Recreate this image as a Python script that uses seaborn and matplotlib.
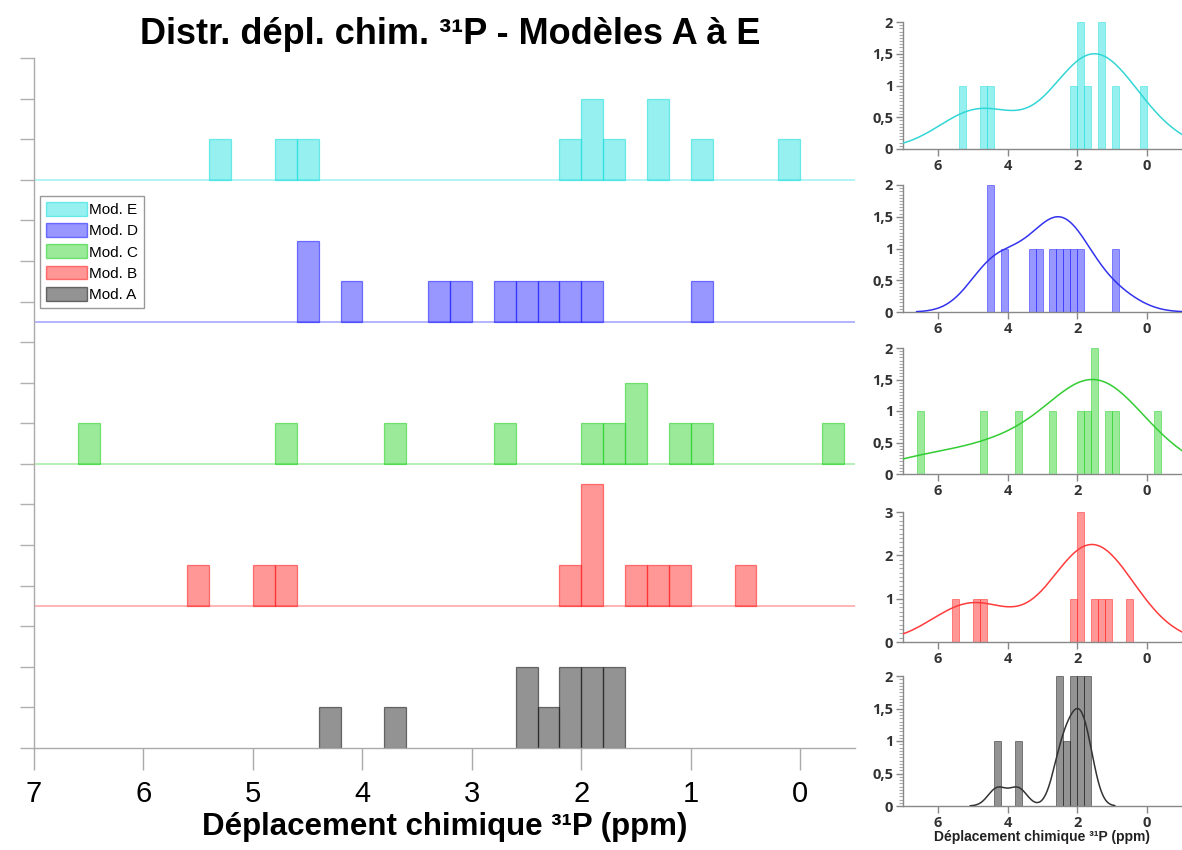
import matplotlib
matplotlib.use("Agg")
import matplotlib.pyplot as plt
import matplotlib.ticker as mticker
from matplotlib.colors import to_rgba
from matplotlib.patches import Patch
import seaborn as sns

mod_a = [4.3, 3.7, 2.5, 2.5, 2.3, 2.1, 2.1, 1.9, 1.9, 1.7, 1.7]
mod_b = [5.5, 4.9, 4.7, 2.1, 1.9, 1.9, 1.9, 1.5, 1.3, 1.1, 0.5]
mod_c = [6.5, 4.7, 3.7, 2.7, 1.9, 1.7, 1.5, 1.5, 1.1, 0.9, -0.3]
mod_d = [4.5, 4.5, 4.1, 3.3, 3.1, 2.7, 2.5, 2.3, 2.1, 1.9, 0.9]
mod_e = [5.3, 4.7, 4.5, 2.1, 1.9, 1.9, 1.7, 1.3, 1.3, 0.9, 0.1]

labels = ["Mod. A", "Mod. B", "Mod. C", "Mod. D", "Mod. E"]
series = [mod_a, mod_b, mod_c, mod_d, mod_e]
offsets = [0, 3.5, 7, 10.5, 14]
main_ticks = [7, 6, 5, 4, 3, 2, 1, 0]
small_ticks = [6, 4, 2, 0]

colors = ["#111111", "#ff1a1a", "#1fd11f", "#1a1aff", "#17dede"]
kde_colors = ["#333333", "#ff3b3b", "#33cc33", "#3333ee", "#33d6d6"]
bw = [0.5, 1.0, 1.0, 1.0, 1.0]

BW = 0.2
BR = (-0.4, 7.0)
title_txt = "Distr. dépl. chim. ³¹P - Modèles A à E"
xlab = "Déplacement chimique ³¹P (ppm)"

sns.set_style("white")
plt.rcParams["font.family"] = ["Liberation Sans", "DejaVu Sans"]
plt.rcParams["text.color"] = "black"
plt.rcParams["axes.labelcolor"] = "black"
plt.rcParams["xtick.color"] = "black"
plt.rcParams["ytick.color"] = "black"

W, H = 1182, 850
fig = plt.figure(figsize=(W / 100, H / 100), dpi=100)


def restyle(patches, col, hide_empty=True, dy=0):
    # translucent face, slightly stronger edge, shift to the ridge baseline
    for p in patches:
        p.set_alpha(None)
        p.set_facecolor(to_rgba(col, 0.45))
        p.set_edgecolor(to_rgba(col, 0.55))
        p.set_y(p.get_y() + dy)
        if hide_empty and p.get_height() == 0:
            p.set_visible(False)


# main stacked panel
ax = fig.add_axes([34 / W, 1 - 748 / H, 821 / W, 690 / H])
for vals, col, off in zip(series, colors, offsets):
    n0 = len(ax.patches)
    sns.histplot(x=vals, binwidth=BW, binrange=BR, color=col,
                 linewidth=0.9, ax=ax)
    restyle(ax.patches[n0:], col, dy=off)
    if off > 0:
        ax.axhline(off, color=col, alpha=0.35, lw=1.3)

ax.set_xlim(7, -0.5)
ax.set_ylim(0, 17)
ax.set_xticks(main_ticks)
ax.set_yticks(range(0, 18))
ax.set_yticklabels([])
ax.set_ylabel("")
ax.set_xlabel(xlab, fontsize=22.5, fontweight="bold", labelpad=3)
ax.tick_params(axis="x", length=16, width=1, color="#aaaaaa", labelsize=21,
               labelcolor="black", pad=7, direction="out", bottom=True)
ax.tick_params(axis="y", length=10, width=1, color="#b0b0b0", left=True)
sns.despine(ax=ax)
for s in ["left", "bottom"]:
    ax.spines[s].set_color("#aaaaaa")
    ax.spines[s].set_linewidth(1)

handles = [Patch(facecolor=to_rgba(c, 0.45), edgecolor=to_rgba(c, 0.55))
           for c in colors]
ax.legend(handles[::-1], labels[::-1], loc="upper left",
          bbox_to_anchor=(0.007, 0.80), borderaxespad=0, fontsize=11,
          handlelength=2.7, handleheight=1.0, handletextpad=0.1,
          labelspacing=0.4, fancybox=False, framealpha=1,
          edgecolor="#999999", borderpad=0.4)

fig.text(450 / W, 1 - 35 / H, title_txt, ha="center", va="center",
         fontsize=26, fontweight="bold", color="black")

# small panels, top (E) to bottom (A)
tops = [676, 512, 348, 185, 22]
bottoms = [806, 642, 474, 312, 149]
comma = mticker.FuncFormatter(lambda v, _: f"{v:g}".replace(".", ","))
for i, (vals, col, kcol) in enumerate(zip(series, colors, kde_colors)):
    t, b = tops[i], bottoms[i]
    axs = fig.add_axes([903 / W, 1 - b / H, 279 / W, (b - t) / H])
    sns.histplot(x=vals, binwidth=BW, binrange=BR, color=col,
                 linewidth=0.6, ax=axs)
    restyle(axs.patches, col)
    ymax = max(p.get_height() for p in axs.patches)
    axk = axs.twinx()
    sns.kdeplot(x=vals, ax=axk, color=kcol, lw=1.1, bw_adjust=bw[i])
    peak = max(axk.lines[0].get_ydata())
    axk.set_ylim(0, peak / 0.75)
    axk.set_axis_off()

    axs.set_xlim(7, -1)
    axs.set_ylim(0, ymax)
    step = 0.5 if ymax <= 2 else 1
    axs.yaxis.set_major_locator(mticker.MultipleLocator(step))
    axs.yaxis.set_minor_locator(mticker.MultipleLocator(step / 10))
    axs.yaxis.set_major_formatter(comma)
    axs.set_xticks(small_ticks)
    axs.set_ylabel("")
    axs.set_xlabel("")
    axs.tick_params(axis="both", which="major", length=5, width=1,
                    color="#888888", labelsize=10.5, labelcolor="#333333",
                    pad=2, left=True, bottom=True)
    axs.tick_params(axis="y", which="minor", length=3, width=0.8,
                    color="#aaaaaa", left=True)
    for lab in axs.get_xticklabels() + axs.get_yticklabels():
        lab.set_fontweight("bold")
        lab.set_family(["Open Sans", "DejaVu Sans"])
    sns.despine(ax=axs)
    for s in ["left", "bottom"]:
        axs.spines[s].set_color("#888888")
        axs.spines[s].set_linewidth(1)
    if i == 0:
        axs.set_xlabel(xlab, fontsize=10, fontweight="bold", labelpad=0,
                       color="#222222")

fig.savefig("out.png", dpi=100)
